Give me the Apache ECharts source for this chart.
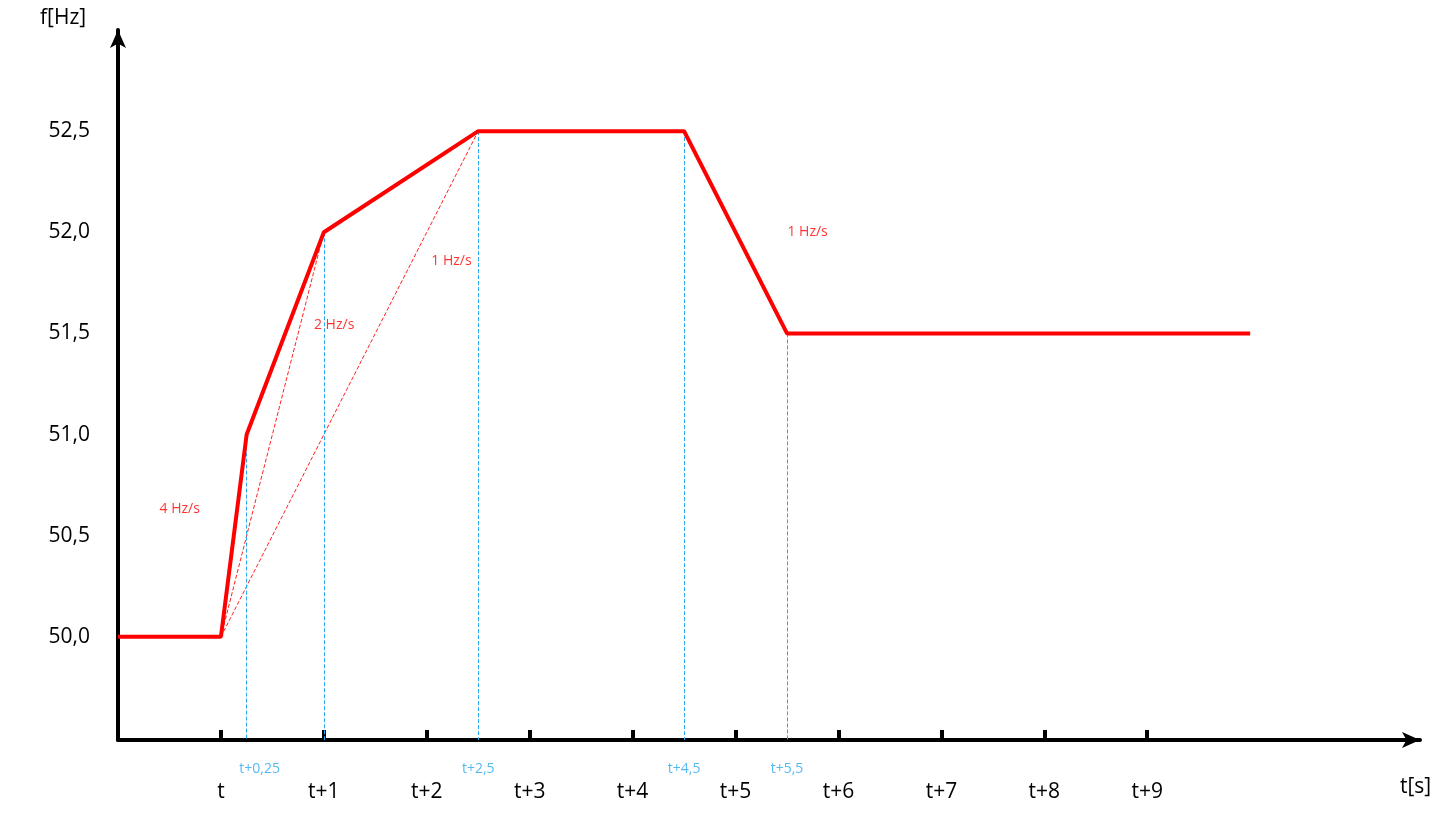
<!DOCTYPE html>
<html><head><meta charset="utf-8">
<script src="https://cdn.jsdelivr.net/npm/echarts@6/dist/echarts.min.js"></script>
<style>html,body{margin:0;padding:0;background:#fff}#c{width:1456px;height:817px}</style>
</head><body><div id="c"></div>
<script>
const lineX = [-1, 0, 0.25, 1, 2.5, 4.5, 5.5, 10];
const lineY = [50, 50, 51, 52, 52.5, 52.5, 51.5, 51.5];
const xTicks = [0,1,2,3,4,5,6,7,8,9];
const xTickLabels = ['t','t+1','t+2','t+3','t+4','t+5','t+6','t+7','t+8','t+9'];
const yTicks = [50, 50.5, 51, 51.5, 52, 52.5];
const markX = [0.25, 1, 2.5, 4.5, 5.5];
const markY = [51, 52, 52.5, 52.5, 51.5];
const markLabels = ['t+0,25', '', 't+2,5', 't+4,5', 't+5,5'];
const markLabelOffsetX = [13, 0, 0, 0, 0];
const chordEnds = [[0.25, 51], [1, 52], [2.5, 52.5]];
const notes = [['4 Hz/s', -0.4, 50.63], ['2 Hz/s', 1.1, 51.54], ['1 Hz/s', 2.24, 51.86], ['1 Hz/s', 5.7, 52.0]];
const yMin = 49.49;

const chart = echarts.init(document.getElementById('c'));
chart.setOption({
  animation: false,
  grid: {left: 118, right: 36, top: 30, bottom: 77},
  xAxis: {
    type: 'value', min: -1, max: 11.65,
    axisLine: {show: true, onZero: false, symbol: ['none', 'arrow'], symbolSize: [12, 18], lineStyle: {color: '#000', width: 4}},
    axisTick: {show: true, customValues: xTicks, length: -10, lineStyle: {color: '#000', width: 4}},
    axisLabel: {customValues: xTicks, formatter: v => xTickLabels[xTicks.indexOf(v)] || '', margin: 42, fontSize: 21, color: '#000', fontFamily: 'Open Sans'},
    splitLine: {show: false}
  },
  yAxis: {
    type: 'value', min: yMin, max: 53.0,
    axisLine: {show: true, onZero: false, symbol: ['none', 'arrow'], symbolSize: [12, 18], lineStyle: {color: '#000', width: 4}},
    axisTick: {show: false},
    axisLabel: {customValues: yTicks, formatter: v => v.toFixed(1).replace('.', ','), margin: 28, fontSize: 21, color: '#000', fontFamily: 'Open Sans'},
    splitLine: {show: false}
  },
  graphic: [
    {type: 'text', left: 40, top: 8, style: {text: 'f[Hz]', fontSize: 21, fill: '#000', fontFamily: 'Open Sans'}},
    {type: 'text', left: 1400, top: 777, style: {text: 't[s]', fontSize: 21, fill: '#000', fontFamily: 'Open Sans'}}
  ],
  series: [
    {type: 'line', data: [], showSymbol: false, silent: true,
     markLine: {symbol: 'none', silent: true, label: {show: false},
       lineStyle: {color: '#ff2020', type: 'dashed', width: 1},
       data: chordEnds.map(p => [{coord: [0, 50]}, {coord: p}])}},
    {type: 'line', data: lineX.map((x, i) => [x, lineY[i]]), showSymbol: false, z: 5,
     lineStyle: {color: '#ff0000', width: 4}},
    {type: 'line', data: [], showSymbol: false,
     markLine: {symbol: 'none', silent: true, label: {show: false},
       lineStyle: {color: '#29a8f0', type: 'dashed', width: 1},
       data: markX.map((x, i) => [{coord: [x, markY[i]]}, {coord: [x, yMin]}])}},
    {type: 'scatter', symbolSize: 0, data: markX.map((x, i) => ({value: [x, yMin], label: {offset: [markLabelOffsetX[i], 0]}})),
     label: {show: true, position: 'bottom', distance: 22, formatter: p => markLabels[p.dataIndex], color: '#29a8f0', fontSize: 14, fontFamily: 'Open Sans'}},
    {type: 'scatter', symbolSize: 0, data: notes.map(n => [n[1], n[2]]),
     label: {show: true, position: 'inside', formatter: p => notes[p.dataIndex][0], color: '#ff0000', fontSize: 14, fontFamily: 'Open Sans'}}
  ]
});
</script></body></html>
